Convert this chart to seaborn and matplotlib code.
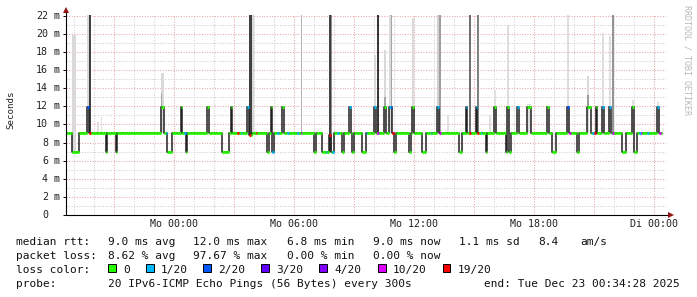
import numpy as np
import pandas as pd
import matplotlib
matplotlib.use("Agg")
import matplotlib.pyplot as plt
import matplotlib.dates as mdates
from matplotlib.patches import Rectangle
from matplotlib.ticker import MultipleLocator, FuncFormatter
import seaborn as sns

# ---------------- data ----------------
x_start = "2025-12-21 18:34:28"
x_end = "2025-12-23 00:34:28"
first_step = "2025-12-21 18:35"
last_step = "2025-12-23 00:20"

# median rtt (ms): value holds from this time until the next change
median_change_times = [
    "2025-12-21 18:35", "2025-12-21 18:55", "2025-12-21 19:15", "2025-12-21 19:40",
    "2025-12-21 19:45", "2025-12-21 20:35", "2025-12-21 20:40", "2025-12-21 21:05",
    "2025-12-21 21:10", "2025-12-21 23:20", "2025-12-21 23:30", "2025-12-21 23:40",
    "2025-12-21 23:55", "2025-12-22 00:20", "2025-12-22 00:25", "2025-12-22 00:35",
    "2025-12-22 00:40", "2025-12-22 01:40", "2025-12-22 01:45", "2025-12-22 02:25",
    "2025-12-22 02:45", "2025-12-22 02:50", "2025-12-22 02:55", "2025-12-22 03:40",
    "2025-12-22 03:45", "2025-12-22 03:55", "2025-12-22 04:40", "2025-12-22 04:45",
    "2025-12-22 04:50", "2025-12-22 04:55", "2025-12-22 05:00", "2025-12-22 05:25",
    "2025-12-22 05:30", "2025-12-22 07:00", "2025-12-22 07:05", "2025-12-22 07:25",
    "2025-12-22 07:45", "2025-12-22 07:50", "2025-12-22 08:00", "2025-12-22 08:25",
    "2025-12-22 08:30", "2025-12-22 08:45", "2025-12-22 08:50", "2025-12-22 08:55",
    "2025-12-22 09:00", "2025-12-22 09:25", "2025-12-22 09:35", "2025-12-22 10:00",
    "2025-12-22 10:05", "2025-12-22 10:30", "2025-12-22 10:35", "2025-12-22 10:45",
    "2025-12-22 10:55", "2025-12-22 11:00", "2025-12-22 11:05", "2025-12-22 11:45",
    "2025-12-22 11:50", "2025-12-22 11:55", "2025-12-22 12:00", "2025-12-22 12:25",
    "2025-12-22 12:35", "2025-12-22 13:10", "2025-12-22 13:15", "2025-12-22 14:15",
    "2025-12-22 14:25", "2025-12-22 14:35", "2025-12-22 14:40", "2025-12-22 15:05",
    "2025-12-22 15:10", "2025-12-22 15:35", "2025-12-22 15:40", "2025-12-22 16:00",
    "2025-12-22 16:05", "2025-12-22 16:35", "2025-12-22 16:40", "2025-12-22 16:45",
    "2025-12-22 16:50", "2025-12-22 17:10", "2025-12-22 17:15", "2025-12-22 17:40",
    "2025-12-22 17:50", "2025-12-22 18:40", "2025-12-22 18:45", "2025-12-22 18:55",
    "2025-12-22 19:05", "2025-12-22 19:40", "2025-12-22 19:45", "2025-12-22 20:10",
    "2025-12-22 20:15", "2025-12-22 20:40", "2025-12-22 20:50", "2025-12-22 21:05",
    "2025-12-22 21:10", "2025-12-22 21:25", "2025-12-22 21:30", "2025-12-22 21:45",
    "2025-12-22 21:50", "2025-12-22 22:25", "2025-12-22 22:35", "2025-12-22 22:55",
    "2025-12-22 23:00", "2025-12-22 23:10", "2025-12-23 00:10", "2025-12-23 00:15",
]
median_change_values = [
    9.0, 6.9, 9.0, 11.9,
    9.0, 6.9, 9.0, 6.9,
    9.0, 11.9, 9.0, 6.9,
    9.0, 11.9, 9.0, 6.9,
    9.0, 11.9, 9.0, 6.9,
    9.0, 11.9, 9.0, 11.9,
    8.8, 9.0, 6.9, 9.0,
    11.9, 6.9, 9.0, 11.9,
    9.0, 6.9, 9.0, 6.9,
    8.8, 6.9, 9.0, 6.9,
    9.0, 11.9, 9.0, 6.9,
    9.0, 6.9, 9.0, 11.9,
    9.0, 11.9, 9.0, 11.9,
    9.0, 6.9, 9.0, 6.9,
    9.0, 11.9, 9.0, 6.9,
    9.0, 11.9, 9.0, 6.9,
    9.0, 11.9, 9.0, 11.9,
    9.0, 6.9, 9.0, 11.9,
    9.0, 6.9, 11.9, 6.9,
    9.0, 11.9, 9.0, 11.9,
    9.0, 11.9, 9.0, 6.9,
    9.0, 11.9, 9.0, 6.9,
    9.0, 11.9, 9.0, 11.9,
    9.0, 11.9, 9.0, 11.9,
    9.0, 6.9, 9.0, 11.9,
    6.9, 9.0, 11.9, 9.0,
]

# lost pings (of 20) for the steps that were not loss free
loss_times = [
    "2025-12-21 19:40", "2025-12-21 19:45", "2025-12-21 23:35", "2025-12-22 00:30",
    "2025-12-22 03:10", "2025-12-22 03:20", "2025-12-22 03:40", "2025-12-22 03:45",
    "2025-12-22 04:05", "2025-12-22 04:55", "2025-12-22 05:10", "2025-12-22 05:40",
    "2025-12-22 06:10", "2025-12-22 06:20", "2025-12-22 07:35", "2025-12-22 07:45",
    "2025-12-22 07:55", "2025-12-22 08:10", "2025-12-22 08:45", "2025-12-22 09:35",
    "2025-12-22 10:00", "2025-12-22 10:10", "2025-12-22 10:45", "2025-12-22 10:50",
    "2025-12-22 10:55", "2025-12-22 12:50", "2025-12-22 13:10", "2025-12-22 13:15",
    "2025-12-22 14:35", "2025-12-22 14:45", "2025-12-22 15:05", "2025-12-22 15:10",
    "2025-12-22 15:20", "2025-12-22 17:10", "2025-12-22 19:40", "2025-12-22 19:45",
    "2025-12-22 20:55", "2025-12-22 21:00", "2025-12-22 21:25", "2025-12-22 21:45",
    "2025-12-22 21:55", "2025-12-22 23:15", "2025-12-22 23:20", "2025-12-22 23:40",
    "2025-12-23 00:10", "2025-12-23 00:15",
]
loss_counts = [
    2, 19, 1, 1,
    19, 1, 1, 19,
    19, 1, 1, 1,
    1, 10, 1, 19,
    1, 1, 1, 1,
    1, 10, 1, 2,
    19, 1, 1, 10,
    1, 19, 1, 19,
    1, 1, 2, 10,
    1, 19, 1, 1,
    10, 1, 10, 1,
    1, 10,
]

# smoke (spread of the 20 pings): step start, low / high rtt (ms), ping density
smoke_times = [
    "2025-12-21 18:55", "2025-12-21 19:00", "2025-12-21 19:40", "2025-12-21 19:45",
    "2025-12-21 20:10", "2025-12-21 20:20", "2025-12-21 23:20", "2025-12-21 23:25",
    "2025-12-21 23:20", "2025-12-22 03:45", "2025-12-22 03:50", "2025-12-22 03:55",
    "2025-12-22 06:20", "2025-12-22 07:45", "2025-12-22 07:50", "2025-12-22 10:00",
    "2025-12-22 10:10", "2025-12-22 10:30", "2025-12-22 10:30", "2025-12-22 10:45",
    "2025-12-22 10:50", "2025-12-22 11:55", "2025-12-22 13:10", "2025-12-22 13:15",
    "2025-12-22 13:40", "2025-12-22 14:45", "2025-12-22 15:10", "2025-12-22 15:45",
    "2025-12-22 16:00", "2025-12-22 16:40", "2025-12-22 17:40", "2025-12-22 17:45",
    "2025-12-22 19:40", "2025-12-22 20:40", "2025-12-22 20:40", "2025-12-22 21:25",
    "2025-12-22 21:45", "2025-12-22 21:55", "2025-12-22 22:55", "2025-12-23 00:10",
]
smoke_low = [
    6.9, 6.9, 9.0, 9.0,
    9.0, 9.0, 9.0, 9.0,
    11.9, 8.8, 8.8, 9.0,
    9.0, 6.9, 6.9, 9.0,
    9.0, 9.0, 11.9, 9.0,
    9.0, 9.0, 9.0, 9.0,
    9.0, 9.0, 9.0, 9.0,
    9.0, 9.0, 9.0, 9.0,
    9.0, 9.0, 11.9, 9.0,
    9.0, 9.0, 9.0, 9.0,
]
smoke_high = [
    19.9, 19.9, 22.5, 22.5,
    10.3, 10.8, 15.7, 15.7,
    13.5, 22.5, 22.5, 22.5,
    22.5, 22.5, 22.5, 17.7,
    22.5, 18.2, 13.0, 22.5,
    22.5, 21.7, 22.5, 22.5,
    11.0, 22.5, 22.5, 11.0,
    13.8, 21.0, 12.3, 12.3,
    22.5, 15.3, 13.3, 20.1,
    19.8, 22.5, 12.7, 12.5,
]
smoke_density = [
    0.15, 0.15, 0.15, 0.75,
    0.12, 0.12, 0.15, 0.15,
    0.35, 0.75, 0.75, 0.15,
    0.30, 0.75, 0.44, 0.15,
    0.78, 0.15, 0.35, 0.15,
    0.35, 0.15, 0.18, 0.38,
    0.12, 0.56, 0.50, 0.12,
    0.12, 0.13, 0.12, 0.12,
    0.13, 0.15, 0.40, 0.13,
    0.13, 0.42, 0.12, 0.12,
]

loss_legend_labels = ["0", "1/20", "2/20", "3/20", "4/20", "10/20", "19/20"]
loss_thresholds = [0, 1, 2, 3, 4, 10, 19]
loss_colors = ["#26ff00", "#00b8ff", "#0059ff", "#5e00ff", "#7e00ff", "#dd00ff", "#ff0000"]

x_label_times = ["2025-12-22 00:00", "2025-12-22 06:00", "2025-12-22 12:00",
                 "2025-12-22 18:00", "2025-12-23 00:00"]
x_label_texts = ["Mo 00:00", "Mo 06:00", "Mo 12:00", "Mo 18:00", "Di 00:00"]
y_tick_values = [0, 2, 4, 6, 8, 10, 12, 14, 16, 18, 20, 22]
y_unit = "m"
y_title = "Seconds"

rtt_stats = ["median rtt:", "9.0 ms avg", "12.0 ms max", "6.8 ms min",
             "9.0 ms now", "1.1 ms sd", "8.4", "am/s"]
loss_stats = ["packet loss:", "8.62 % avg", "97.67 % max", "0.00 % min", "0.00 % now"]
probe_text = ["probe:", "20 IPv6-ICMP Echo Pings (56 Bytes) every 300s"]
end_text = "end: Tue Dec 23 00:34:28 2025"
watermark = "RRDTOOL / TOBI OETIKER"

# ---------------- build tables ----------------
steps = pd.date_range(first_step, last_step, freq="5min")
median = (pd.Series(median_change_values, index=pd.to_datetime(median_change_times))
          .reindex(steps, method="ffill"))
loss = pd.Series(0, index=steps)
loss.loc[pd.to_datetime(loss_times)] = loss_counts
df = pd.DataFrame({"time": steps, "median": median.values, "loss": loss.values})
df["cls"] = [max(i for i, t in enumerate(loss_thresholds) if l >= t) for l in df["loss"]]
step_w = pd.Timedelta(minutes=5)

line_df = pd.concat([df[["time", "median"]],
                     pd.DataFrame({"time": [df["time"].iloc[-1] + step_w],
                                   "median": [df["median"].iloc[-1]]})], ignore_index=True)

smoke = pd.DataFrame({"time": pd.to_datetime(smoke_times), "lo": smoke_low,
                      "hi": smoke_high, "dens": smoke_density}).sort_values("dens", kind="stable")

# ---------------- style ----------------
sns.set_theme(style="white")
plt.rcParams["font.family"] = ["DejaVu Sans Mono"]
plt.rcParams["axes.facecolor"] = "white"
plt.rcParams["figure.facecolor"] = "white"

W, H = 697, 297
fig = plt.figure(figsize=(W / 100, H / 100), dpi=100)
L, B, PW, PH = 65.5, 215, 600, 200
ax = fig.add_axes([L / W, (H - B) / H, PW / W, PH / H])

def fx(px):
    return px / W

def fy(py):
    return 1 - py / H

# smoke
g = 1 - smoke["dens"].values
ax.bar(mdates.date2num(smoke["time"]), smoke["hi"] - smoke["lo"], bottom=smoke["lo"],
       width=5 / 1440, align="edge", color=np.stack([g, g, g], axis=1),
       linewidth=0, zorder=1)

# median line
sns.lineplot(data=line_df, x="time", y="median", drawstyle="steps-post",
             color="#202020", lw=1.1, estimator=None, ax=ax, zorder=2)

# loss coloured median bands
t0 = mdates.date2num(df["time"])
ax.hlines(df["median"], t0, t0 + 5 / 1440,
          colors=[loss_colors[c] for c in df["cls"]], lw=2.2, zorder=3)

ax.set_xlim(pd.Timestamp(x_start), pd.Timestamp(x_end))
ax.set_ylim(0, 22.08)
ax.set_xlabel("")
ax.set_ylabel("")

# grid
ax.xaxis.set_major_locator(mdates.HourLocator(byhour=range(0, 24, 3)))
ax.xaxis.set_minor_locator(mdates.HourLocator())
ax.yaxis.set_major_locator(MultipleLocator(2))
ax.yaxis.set_minor_locator(MultipleLocator(1))
lab_map = {pd.Timestamp(t): s for t, s in zip(x_label_times, x_label_texts)}

def xfmt(v, pos):
    ts = pd.Timestamp(mdates.num2date(v).replace(tzinfo=None)).round("min")
    return lab_map.get(ts, "")

ax.xaxis.set_major_formatter(FuncFormatter(xfmt))
ax.grid(which="major", color="#e8a4a4", lw=0.75, ls=(0, (1, 1.5)))
ax.grid(which="minor", color="#cfcfcf", lw=0.75, ls=(0, (1, 1.5)))
ax.set_axisbelow(True)
for s in ax.spines.values():
    s.set_visible(False)
ax.tick_params(axis="x", which="both", length=0, pad=3, labelsize=7.2, colors="#000000")
ax.tick_params(axis="y", which="major", length=2.5, width=0.7, color="#000000",
               labelleft=False, left=True)
ax.tick_params(axis="y", which="minor", length=0)
for lbl in ax.get_xticklabels():
    lbl.set_color("#222222")

# y tick labels: number + unit columns
ytr = ax.get_yaxis_transform()
for v in y_tick_values:
    ax.text((48 - L) / PW, v, f"{v}", transform=ytr, ha="right", va="center",
            fontsize=7.2, color="#222222")
    if v != 0:
        ax.text((54 - L) / PW, v, y_unit, transform=ytr, ha="left", va="center",
                fontsize=7.2, color="#222222")

# axis lines with arrows
ax.plot([0, 0], [0, (B - 12) / PH], transform=ax.transAxes, color="black", lw=0.8,
        clip_on=False, zorder=5)
ax.plot([0, (668 - L) / PW], [0, 0], transform=ax.transAxes, color="black", lw=0.8,
        clip_on=False, zorder=5)
ax.plot([0], [(B - 10.5) / PH], marker="^", ms=4.5, color="#901414", mew=0,
        transform=ax.transAxes, clip_on=False, zorder=6)
ax.plot([(671 - L) / PW], [0], marker=">", ms=4.5, color="#901414", mew=0,
        transform=ax.transAxes, clip_on=False, zorder=6)

# y title and watermark
fig.text(fx(10.7), fy(110), y_title, rotation=90, ha="center", va="center",
         fontsize=6.6, color="#222222")
fig.text(fx(687.5), fy(5), watermark, rotation=270, ha="center", va="top",
         fontsize=6, color="#b8b8b8")

# legend block
base = [245, 259, 272.8, 286.7]
col_x = [16, 107.6, 193.3, 286.7, 373.3, 459, 537.8, 580]
for x, s in zip(col_x, rtt_stats):
    fig.text(fx(x), fy(base[0]), s, ha="left", va="baseline", fontsize=8, color="#111111")
for x, s in zip(col_x, loss_stats):
    fig.text(fx(x), fy(base[1]), s, ha="left", va="baseline", fontsize=8, color="#111111")
fig.text(fx(16), fy(base[2]), "loss color:", ha="left", va="baseline", fontsize=8,
         color="#111111")
box_x = [108.4, 145.8, 203, 261, 319, 377.8, 442.7]
for bx, lab, c in zip(box_x, loss_legend_labels, loss_colors):
    fig.patches.append(Rectangle((fx(bx), fy(272)), 7.7 / W, 7.7 / H,
                                 transform=fig.transFigure,
                                 facecolor=c, edgecolor="black", lw=0.7))
    fig.text(fx(bx + 15), fy(base[2]), lab, ha="left", va="baseline", fontsize=8,
             color="#111111")
fig.text(fx(16), fy(base[3]), probe_text[0], ha="left", va="baseline", fontsize=8,
         color="#111111")
fig.text(fx(107.6), fy(base[3]), probe_text[1], ha="left", va="baseline", fontsize=8,
         color="#111111")
fig.text(fx(680), fy(base[3]), end_text, ha="right", va="baseline", fontsize=8,
         color="#111111")

fig.savefig("out.png", dpi=100, facecolor="white")
